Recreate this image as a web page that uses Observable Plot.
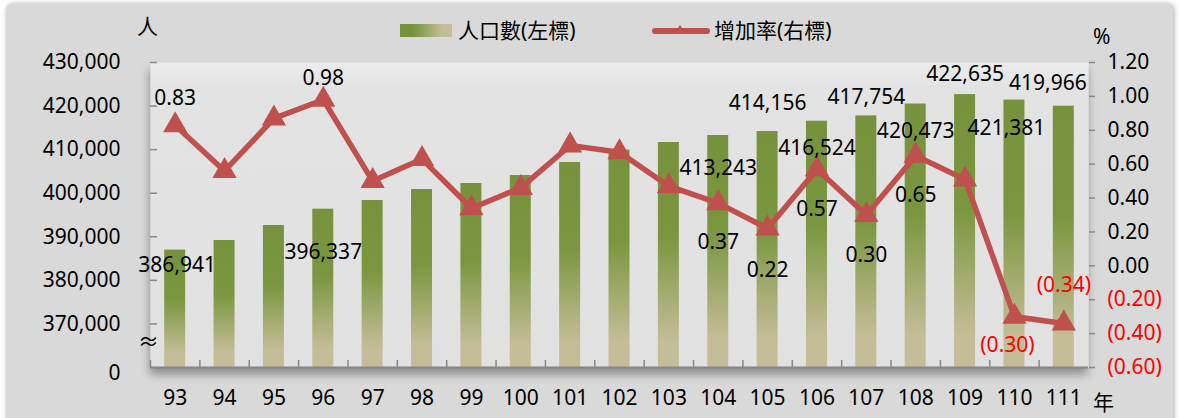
<!DOCTYPE html>
<html><head><meta charset="utf-8">
<script src="https://cdn.jsdelivr.net/npm/d3@7"></script>
<script src="https://cdn.jsdelivr.net/npm/@observablehq/plot@0.6"></script>
<style>
html,body{margin:0;padding:0;background:#fff;overflow:hidden;width:1180px;height:418px;}
#card{position:absolute;left:6px;top:4px;width:1167px;height:440px;background:#d9d9d9;border-radius:6px;box-shadow:1px 0 5px rgba(0,0,0,0.35);}
#chart{position:absolute;left:0;top:0;}
.lbl{position:absolute;font-family:"Noto Sans","Noto Sans CJK TC",sans-serif;font-size:21px;color:#000;line-height:21px;white-space:nowrap}
</style></head><body>
<div id="card"></div>
<div id="chart"></div>
<svg style="position:absolute;left:400px;top:24px" width="52" height="14"><defs><linearGradient id="lg1" x1="0" x2="1" y1="0" y2="0"><stop offset="0.25" stop-color="#76923c"/><stop offset="0.8" stop-color="#c4bd97"/></linearGradient></defs><rect width="52" height="13" fill="url(#lg1)"/></svg>
<div class="lbl" style="left:458px;top:20px">人口數(左標)</div>
<svg style="position:absolute;left:652px;top:22px" width="58" height="16"><line x1="3" x2="55" y1="9" y2="9" stroke="#c0504d" stroke-width="6" stroke-linecap="round"/><path d="M28,3 L34,12 L22,12 Z" fill="#c0504d"/></svg>
<div class="lbl" style="left:714px;top:20px">增加率(右標)</div>
<div class="lbl" style="left:137px;top:16px">人</div>
<div class="lbl" style="left:1093px;top:26px">%</div>
<div class="lbl" style="left:1093px;top:392px">年</div>
<div class="lbl" style="left:138px;top:331px">≈</div>
<script>
const years = ["93","94","95","96","97","98","99","100","101","102","103","104","105","106","107","108","109","110","111"];
const population = [386941,389150,392590,396337,398330,400850,402230,404070,407050,409900,411640,413243,414156,416524,417754,420473,422635,421381,419966];
const growthRate = [0.83,0.56,0.87,0.98,0.50,0.63,0.34,0.46,0.71,0.67,0.47,0.37,0.22,0.57,0.30,0.65,0.51,-0.30,-0.34];
const leftTicks = [360000,370000,380000,390000,400000,410000,420000,430000];
const rightTicks = [-0.6,-0.4,-0.2,0,0.2,0.4,0.6,0.8,1.0,1.2];

// label placement (style, not data)
const popLabelDy = [15,null,null,43,null,null,null,null,null,null,null,33,-28,27,-19,27,-20,28,-23];
const popLabelDx = [2,0,0,0,0,0,0,0,0,0,0,0,0,0,0,0,0,-8,-16];
const rateLabelDy = [-27,null,null,-22,null,null,null,null,null,null,null,39,42,40,40,40,null,29,-38];
const rateLabelDx = [0,0,0,0,0,0,0,0,0,0,0,0,0,0,0,0,0,-7,0];

const W = 1180, H = 418, ML = 150, MR = 92, MT = 62, MB = 51;
const popMin = leftTicks[0], popMax = leftTicks[leftTicks.length-1];
const rMin = rightTicks[0], rMax = rightTicks[rightTicks.length-1];
const rateToY = r => popMin + (r - rMin) / (rMax - rMin) * (popMax - popMin);
const yToRate = y => rMin + (y - popMin) / (popMax - popMin) * (rMax - rMin);
const fmtRate = r => { const v = Math.round(r*100)/100; return v < 0 ? `(${Math.abs(v).toFixed(2)})` : v.toFixed(2); };
const fmtPop = d => d === popMin ? "0" : d3.format(",")(d);

const rows = years.map((year, i) => ({year, pop: population[i], rate: growthRate[i], rateY: rateToY(growthRate[i])}));
const step = (W - ML - MR) / years.length;
const font = '"Noto Sans","Noto Sans CJK TC",sans-serif';

const popLabels = rows.flatMap((d, i) => popLabelDy[i] == null ? [] : [
  Plot.text([d], {x: "year", y: "pop", text: d => d3.format(",")(d.pop), dy: popLabelDy[i], dx: popLabelDx[i], fill: "#000", fontSize: 21})
]);
const rateLabels = rows.flatMap((d, i) => rateLabelDy[i] == null ? [] : [
  Plot.text([d], {x: "year", y: "rateY", text: d => fmtRate(d.rate), dy: rateLabelDy[i], dx: rateLabelDx[i], fill: d.rate < 0 ? "#ff0000" : "#000", fontSize: 21})
]);

const svg = Plot.plot({
  width: W, height: H,
  marginLeft: ML, marginRight: MR, marginTop: MT, marginBottom: MB,
  style: {fontFamily: font, fontSize: "21px", background: "transparent", color: "#000", overflow: "visible"},
  x: {type: "band", domain: years, paddingInner: 0.575, paddingOuter: 0.2875, round: false, label: null},
  y: {domain: [popMin, popMax], label: null},
  marks: [
    Plot.frame({fill: "url(#plotBg)", stroke: null}),
    Plot.barY(rows, {x: "year", y1: popMin, y2: "pop", fill: "url(#barGrad)"}),
    Plot.line(rows, {x: "year", y: "rateY", stroke: "#c0504d", strokeWidth: 5.5, strokeLinejoin: "round"}),
    Plot.dot(rows, {x: "year", y: "rateY", symbol: "triangle", r: 9, fill: "#c0504d", stroke: null}),
    ...popLabels,
    ...rateLabels,
    Plot.axisY(leftTicks.slice(1), {anchor: "left", tickSize: 0, tickPadding: 30, tickFormat: fmtPop, fontSize: 21}),
    Plot.axisY(leftTicks.slice(0, 1), {anchor: "left", tickSize: 0, tickPadding: 30, tickFormat: fmtPop, fontSize: 21, dy: 6}),
    Plot.axisY(leftTicks.slice(1), {anchor: "left", tickSize: -7, tickFormat: () => "", stroke: "#888", strokeWidth: 1.5}),
    Plot.axisY(rightTicks.filter(r => r >= 0).map(rateToY), {anchor: "right", tickSize: 6, tickPadding: 13, tickFormat: y => fmtRate(yToRate(y)), fontSize: 21, stroke: "#888", strokeWidth: 1.5}),
    Plot.axisY(rightTicks.filter(r => r < 0).map(rateToY), {anchor: "right", tickSize: 6, tickPadding: 13, tickFormat: y => fmtRate(yToRate(y)), fontSize: 21, fill: "#ff0000", stroke: "#888", strokeWidth: 1.5}),
    Plot.axisX({anchor: "bottom", tickSize: 0, tickPadding: 23, fontSize: 21}),
    Plot.axisX({anchor: "bottom", tickSize: -7, dx: -step/2, tickFormat: () => "", stroke: "#888", strokeWidth: 1.5}),
    Plot.ruleY([popMin], {stroke: "#868686", strokeWidth: 2}),
    Plot.axisY({anchor: "left", line: true, tickSize: 0, tickFormat: () => "", stroke: "#868686", strokeWidth: 2}),
    Plot.axisY({anchor: "right", line: true, tickSize: 0, tickFormat: () => "", stroke: "#868686", strokeWidth: 2})
  ]
});

d3.select(svg).insert("defs", ":first-child").html(`
  <linearGradient id="plotBg" x1="0" x2="0" y1="0" y2="1">
    <stop offset="0" stop-color="#ececec"/><stop offset="0.08" stop-color="#e3e3e3"/><stop offset="1" stop-color="#e1e1e1"/>
  </linearGradient>
  <linearGradient id="barGrad" x1="0" x2="0" y1="0" y2="1">
    <stop offset="0" stop-color="#76923c"/><stop offset="0.42" stop-color="#7a963e"/><stop offset="0.88" stop-color="#c4bd97"/><stop offset="1" stop-color="#c4bd97"/>
  </linearGradient>
  <filter id="plotShadow" x="-5%" y="-10%" width="110%" height="130%">
    <feDropShadow dx="-1" dy="7" stdDeviation="5" flood-color="#000" flood-opacity="0.35"/>
  </filter>`);
d3.select(svg).selectAll('[aria-label="frame"]').attr("filter", "url(#plotShadow)");
document.getElementById("chart").appendChild(svg);
</script>
</body></html>
